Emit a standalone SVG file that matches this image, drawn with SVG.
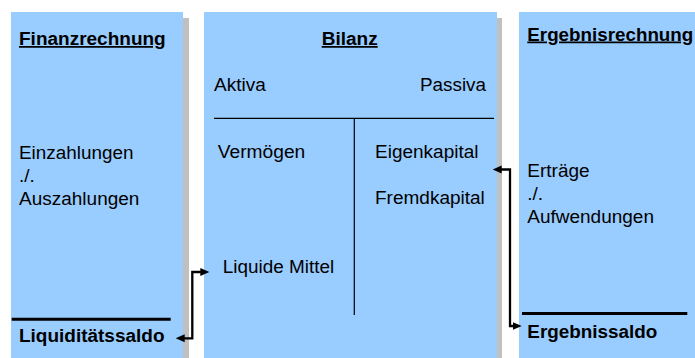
<svg xmlns="http://www.w3.org/2000/svg" width="695" height="358" viewBox="0 0 695 358">
<defs>
<style>
.panel{fill:#99CCFF;}
.shadow{fill:#C0C0C0;}
.t{font-family:"Liberation Sans",Arial,sans-serif;font-size:17.5px;fill:#000;}
.b{font-weight:bold;}
.u{text-decoration:underline;}
.rule{stroke:#000;stroke-width:3;fill:none;}
.thin{stroke:#000;stroke-width:1.2;fill:none;}
.conn{stroke:#000;stroke-width:2.3;fill:none;marker-start:url(#ah);marker-end:url(#ah);}
</style>
<marker id="ah" markerUnits="userSpaceOnUse" markerWidth="10" markerHeight="10" viewBox="0 -5 10 10" refX="2" refY="0" orient="auto-start-reverse">
<path d="M0,-4 L9,0 L0,4 z" fill="#000"/>
</marker>
</defs>
<rect width="695" height="358" fill="#fff"/>

<g id="finanzrechnung">
<rect class="shadow" x="17" y="18" width="172" height="345"/>
<rect class="panel" x="11" y="12" width="172" height="350"/>
<text class="t b u" x="19" y="45" textLength="146.7" lengthAdjust="spacingAndGlyphs">Finanzrechnung</text>
<text class="t" x="19" y="159.3" textLength="114.5" lengthAdjust="spacingAndGlyphs">Einzahlungen</text>
<text class="t" x="19" y="182" textLength="15.8" lengthAdjust="spacingAndGlyphs">./.</text>
<text class="t" x="19" y="205" textLength="120.4" lengthAdjust="spacingAndGlyphs">Auszahlungen</text>
<line class="rule" x1="11.7" y1="319.3" x2="170.7" y2="319.3"/>
<text class="t b" x="19" y="341.7" textLength="145.5" lengthAdjust="spacingAndGlyphs">Liquiditätssaldo</text>
</g>

<g id="bilanz">
<rect class="shadow" x="209" y="18" width="293" height="345"/>
<rect class="panel" x="204" y="12" width="293" height="350"/>
<text class="t b u" x="321.7" y="45" textLength="56" lengthAdjust="spacingAndGlyphs">Bilanz</text>
<text class="t" x="214" y="90.8" textLength="51.7" lengthAdjust="spacingAndGlyphs">Aktiva</text>
<text class="t" x="420" y="91" textLength="66" lengthAdjust="spacingAndGlyphs">Passiva</text>
<line class="thin" x1="214" y1="118.3" x2="494" y2="118.3"/>
<line class="thin" x1="354.3" y1="118.3" x2="354.3" y2="315"/>
<text class="t" x="217.7" y="158.3" textLength="87.6" lengthAdjust="spacingAndGlyphs">Vermögen</text>
<text class="t" x="375" y="158.3" textLength="103.5" lengthAdjust="spacingAndGlyphs">Eigenkapital</text>
<text class="t" x="375" y="204" textLength="109.8" lengthAdjust="spacingAndGlyphs">Fremdkapital</text>
<text class="t" x="222.7" y="273.3" textLength="111.5" lengthAdjust="spacingAndGlyphs">Liquide Mittel</text>
</g>

<g id="ergebnisrechnung">
<rect class="panel" x="519" y="12" width="200" height="350"/>
<text class="t b u" x="527.3" y="40.5" textLength="166" lengthAdjust="spacingAndGlyphs">Ergebnisrechnung</text>
<text class="t" x="527.3" y="177.3" textLength="62.3" lengthAdjust="spacingAndGlyphs">Erträge</text>
<text class="t" x="527.3" y="200.3" textLength="15.8" lengthAdjust="spacingAndGlyphs">./.</text>
<text class="t" x="527.3" y="223.3" textLength="126.7" lengthAdjust="spacingAndGlyphs">Aufwendungen</text>
<line class="rule" x1="522" y1="313.5" x2="687.3" y2="313.5"/>
<text class="t b" x="527.3" y="338.3" textLength="130" lengthAdjust="spacingAndGlyphs">Ergebnissaldo</text>
</g>

<g id="connectors">
<path class="conn" d="M182.7,338.3 H192.3 V272 H202.3"/>
<path class="conn" d="M499.7,169.5 H510 V326 H514.7"/>
</g>
</svg>
